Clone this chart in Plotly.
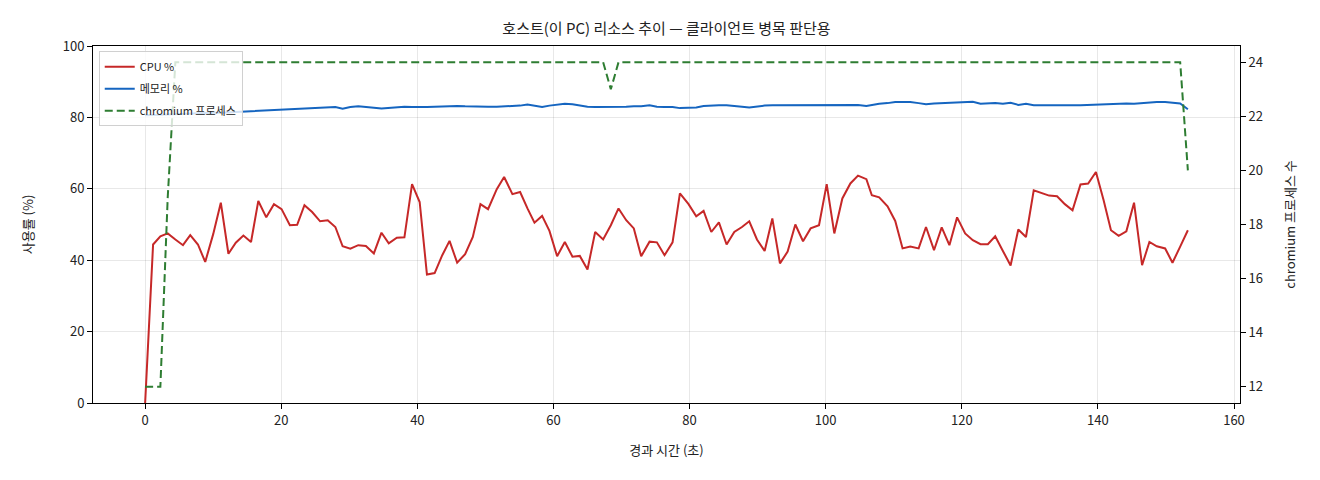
import plotly.graph_objects as go

# 경과 시간 (초)
time_s = [
    0, 1.17, 2.24, 3.32, 4.44, 5.56, 6.63, 7.76, 8.83, 10.0,
    11.12, 12.24, 13.32, 14.44, 15.56, 16.63, 17.80, 18.93, 20.05, 21.27,
    22.34, 23.41, 24.54, 25.71, 26.83, 27.95, 29.02, 30.15, 31.32, 32.44,
    33.61, 34.73, 35.80, 36.98, 38.10, 39.22, 40.34, 41.41, 42.54, 43.66,
    44.73, 45.85, 47.02, 48.15, 49.27, 50.39,
    51.67, 52.75, 53.97, 55.10, 56.18, 57.21, 58.33, 59.41, 60.54, 61.67,
    62.79, 63.87, 65.0, 66.13, 67.30, 68.43, 69.56, 70.69, 71.81, 72.89,
    74.12, 75.20, 76.32, 77.50, 78.58, 79.85, 80.98, 82.06, 83.19, 84.31,
    85.44, 86.57, 87.70, 88.77, 89.90, 91.03, 92.16, 93.28, 94.41, 95.54,
    96.67, 97.79, 99.02, 100.15, 101.27, 102.45, 103.63, 104.75, 105.98,
    106.78, 107.86, 109.09, 110.22, 111.30, 112.43, 113.66, 114.74, 115.92, 117.05,
    118.18, 119.31, 120.49, 121.62, 122.75, 123.83, 124.91, 126.04, 127.17, 128.30,
    129.43, 130.57, 131.70, 132.83, 134.00, 135.14, 136.27, 137.44, 138.57, 139.71,
    140.84, 141.92, 143.05, 144.18, 145.31, 146.49, 147.57, 148.65, 149.88, 150.96,
    152.09, 153.22,
]

cpu_pct = [
    0, 44.4, 46.7, 47.5, 45.8, 44.2, 47.0, 44.4, 39.5, 47.3,
    56.1, 41.8, 44.9, 46.9, 45.1, 56.6, 52.0, 55.7, 54.3, 49.8,
    49.9, 55.4, 53.5, 50.9, 51.2, 49.3, 43.9, 43.2, 44.2, 44.0,
    41.9, 47.7, 44.7, 46.3, 46.4, 61.3, 56.3, 36.0, 36.4, 41.4,
    45.4, 39.3, 41.7, 46.5, 55.7, 54.3,
    59.9, 63.3, 58.5, 59.1, 54.5, 50.5, 52.4, 48.2, 41.1, 45.1,
    41.0, 41.2, 37.4, 47.9, 45.8, 49.8, 54.5, 51.2, 48.9, 41.1,
    45.2, 45.0, 41.4, 45.0, 58.7, 55.7, 52.3, 53.8, 47.9, 50.6,
    44.4, 47.9, 49.3, 50.9, 45.8, 42.6, 51.7, 39.1, 42.4, 50.0,
    45.3, 48.9, 49.8, 61.3, 47.5, 57.3, 61.5, 63.7, 62.7,
    58.2, 57.6, 55.1, 51.0, 43.3, 43.8, 43.3, 49.3, 42.8, 49.2,
    44.2, 52.0, 47.5, 45.6, 44.5, 44.5, 46.7, 42.6, 38.5, 48.6,
    46.5, 59.6, 58.9, 58.1, 57.9, 55.7, 54.0, 61.2, 61.5, 64.7,
    56.8, 48.4, 46.8, 48.1, 56.1, 38.6, 45.1, 43.9, 43.3, 39.3,
    43.8, 48.4,
]

mem_pct = [
    80.6, 80.7, 80.8, 80.9, 81.0, 81.0, 81.1, 81.2, 81.2, 81.3,
    81.3, 81.4, 81.5, 81.6, 81.7, 81.8, 82.0, 82.1, 82.2, 82.3,
    82.4, 82.5, 82.5, 82.7, 82.8, 82.9, 82.4, 82.9, 83.1, 83.0,
    82.7, 82.5, 82.7, 82.8, 83.0, 82.9, 82.8, 82.9, 83.0, 83.1,
    83.2, 83.2, 83.1, 83.0, 82.9, 83.0,
    83.0, 83.1, 83.1, 83.3, 83.6, 83.3, 82.9, 83.3, 83.6, 83.8,
    83.7, 83.3, 83.0, 82.9, 82.9, 82.8, 82.9, 83.0, 83.1, 83.1,
    83.4, 83.0, 82.9, 82.9, 82.6, 82.7, 82.8, 83.2, 83.4, 83.4,
    83.4, 83.3, 83.0, 82.8, 83.1, 83.3, 83.4, 83.4, 83.5, 83.4,
    83.3, 83.3, 83.3, 83.4, 83.4, 83.3, 83.5, 83.5, 83.2,
    83.5, 83.8, 84.0, 84.3, 84.3, 84.3, 84.0, 83.7, 83.9, 84.0,
    84.1, 84.1, 84.2, 84.4, 83.8, 83.9, 84.0, 83.8, 84.1, 83.5,
    83.8, 83.4, 83.3, 83.4, 83.4, 83.5, 83.4, 83.4, 83.5, 83.6,
    83.8, 83.9, 84.0, 83.9, 83.8, 84.0, 84.1, 84.3, 84.3, 84.2,
    83.9, 82.3,
]

chromium_procs = (
    [12, 12, 12, 19] + [24] * 57 + [23] + [24] * 74 + [20]
)

font = "Noto Sans CJK KR"

fig = go.Figure()
fig.add_trace(go.Scatter(x=time_s, y=cpu_pct, name="CPU %", mode="lines",
                         legendgroup="cpu",
                         line=dict(color="#c62828", width=2)))
fig.add_trace(go.Scatter(x=time_s, y=mem_pct, name="메모리 %", mode="lines",
                         legendgroup="mem",
                         line=dict(color="#1565c0", width=2)))
fig.add_trace(go.Scatter(x=time_s, y=chromium_procs, name="chromium 프로세스",
                         mode="lines", yaxis="y2", legendgroup="proc",
                         line=dict(color="#2e7d32", width=2, dash="8px,4px")))

axis_common = dict(showline=True, linecolor="black", linewidth=1,
                   ticks="outside", ticklen=5, tickcolor="black",
                   tickfont=dict(size=13, color="#222"), zeroline=False)

# page body has an 8px margin, so the figure is a bit smaller than the window
W, H = 1304, 464
fig.update_layout(
    width=W, height=H,
    margin=dict(l=85, r=72, t=38, b=69),
    paper_bgcolor="white", plot_bgcolor="white",
    font=dict(family=font, color="#222"),
    title=dict(text="호스트(이 PC) 리소스 추이 — 클라이언트 병목 판단용",
               x=(85 + 1232) / 2 / W, xanchor="center",
               y=1 - 21 / H, yanchor="middle", font=dict(size=15)),
    xaxis=dict(range=[-7.66, 160.88], tickvals=[0, 20, 40, 60, 80, 100, 120, 140, 160],
               mirror=True, showgrid=True, gridcolor="rgba(0,0,0,0.09)",
               title=dict(text="경과 시간 (초)", font=dict(size=13), standoff=18),
               **axis_common),
    yaxis=dict(range=[0, 100], tickvals=[0, 20, 40, 60, 80, 100],
               showgrid=True, gridcolor="rgba(0,0,0,0.09)",
               title=dict(text="사용률 (%)", font=dict(size=13), standoff=26),
               **axis_common),
    yaxis2=dict(range=[11.4, 24.6], tickvals=[12, 14, 16, 18, 20, 22, 24],
                overlaying="y", side="right", showgrid=False,
                title=dict(text="chromium 프로세스 수", font=dict(size=13), standoff=23),
                **axis_common),
    legend=dict(x=0.005, y=0.985, xanchor="left", yanchor="top",
                bgcolor="rgba(255,255,255,0.8)", bordercolor="#d0d0d0",
                borderwidth=1, font=dict(size=11), tracegroupgap=3,
                traceorder="grouped"),
    showlegend=True,
)

fig.write_html("out.html")
